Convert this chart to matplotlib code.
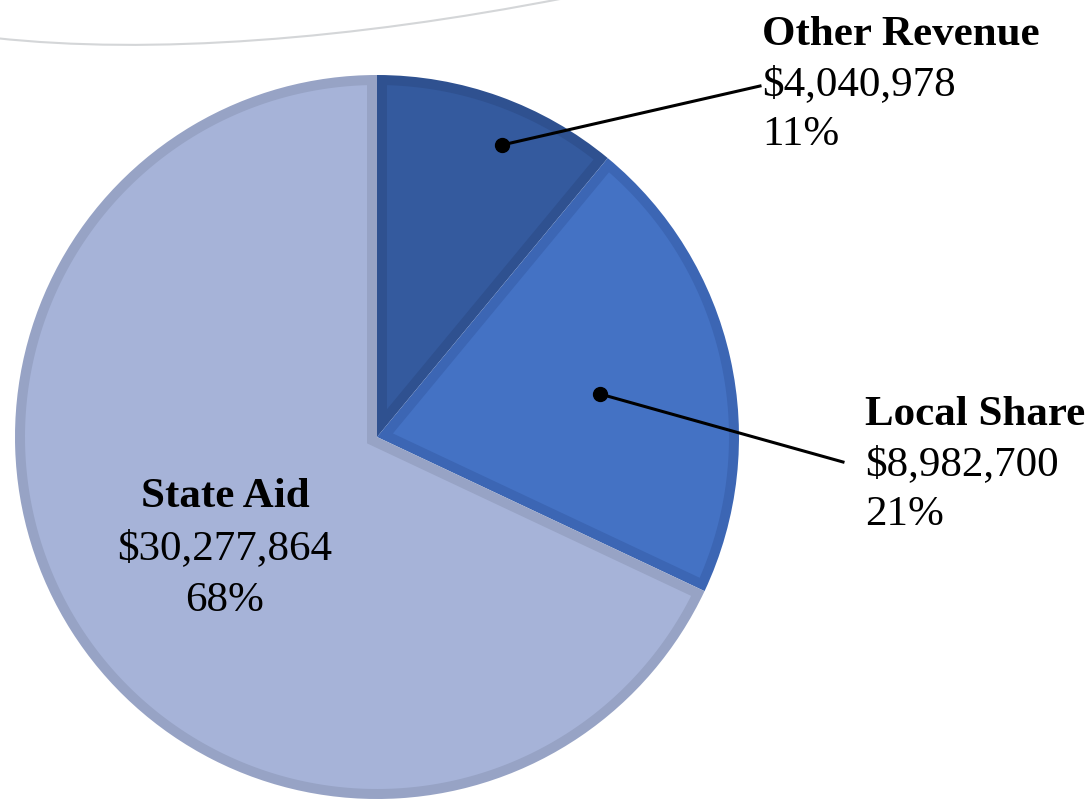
import numpy as np
import matplotlib.pyplot as plt
from matplotlib.path import Path
from matplotlib.patches import PathPatch, Polygon

# datos
categorias = ["Other Revenue", "Local Share", "State Aid"]
montos = ["$4,040,978", "$8,982,700", "$30,277,864"]
porcentajes = [11, 21, 68]

colores = ["#345A9E", "#4472C4", "#A6B3D8"]
bordes = ["#2F5190", "#3C66B4", "#97A3C5"]

W, H = 1091, 800
fig = plt.figure(figsize=(W / 100, H / 100), dpi=100)
ax = fig.add_axes([0, 0, 1, 1])

cx, cy, r = 377, H - 437, 362
borde = 10  # ancho del borde interior en px

# sector completo con el color del borde
wedges, _ = ax.pie(
    porcentajes,
    colors=bordes,
    startangle=90,
    counterclock=False,
    center=(cx, cy),
    radius=r,
    frame=True,
    wedgeprops=dict(linewidth=0),
)
ax.set_xlim(0, W)
ax.set_ylim(0, H)
ax.set_aspect("equal")
ax.axis("off")

# relleno interior, desplazado hacia dentro
for w, c in zip(wedges, colores):
    t1, t2 = np.radians(w.theta1), np.radians(w.theta2)
    mitad = (t2 - t1) / 2
    d = borde / np.sin(mitad)
    bis = t1 + mitad
    esquina = (cx + d * np.cos(bis), cy + d * np.sin(bis))
    rho = r - borde
    delta = np.arcsin(borde / rho)
    th = np.linspace(t1 + delta, t2 - delta, 300)
    pts = [esquina] + list(zip(cx + rho * np.cos(th), cy + rho * np.sin(th)))
    ax.add_patch(Polygon(pts, closed=True, facecolor=c, edgecolor="none"))

# arco decorativo de fondo
verts = [(-5, H - 38), (150, H - 55), (350, H - 40), (565, H + 2)]
arco = PathPatch(
    Path(verts, [Path.MOVETO, Path.CURVE4, Path.CURVE4, Path.CURVE4]),
    facecolor="none",
    edgecolor="#D4D6D8",
    lw=1.5,
)
ax.add_patch(arco)

fuente = "Liberation Serif"
tam = 31

# lineas guia
ax.plot([502, 760], [H - 145, H - 86], color="black", lw=2.2)
ax.plot([502], [H - 145], "o", color="black", ms=10)
ax.plot([600, 843], [H - 394, H - 462], color="black", lw=2.2)
ax.plot([600], [H - 394], "o", color="black", ms=10)


def etiqueta(x, y, i, ha, paso=50):
    ax.text(x, y, categorias[i], ha=ha, va="baseline", fontsize=tam,
            fontweight="bold", family=fuente, color="black")
    ax.text(x, y - paso, montos[i], ha=ha, va="baseline", fontsize=tam,
            family=fuente, color="black")
    ax.text(x, y - 2 * paso, f"{porcentajes[i]}%", ha=ha, va="baseline",
            fontsize=tam, family=fuente, color="black")


etiqueta(762, H - 45, 0, "left")
etiqueta(865, H - 425, 1, "left")
etiqueta(225, H - 507, 2, "center", paso=52)

fig.savefig("out.png", dpi=100)
